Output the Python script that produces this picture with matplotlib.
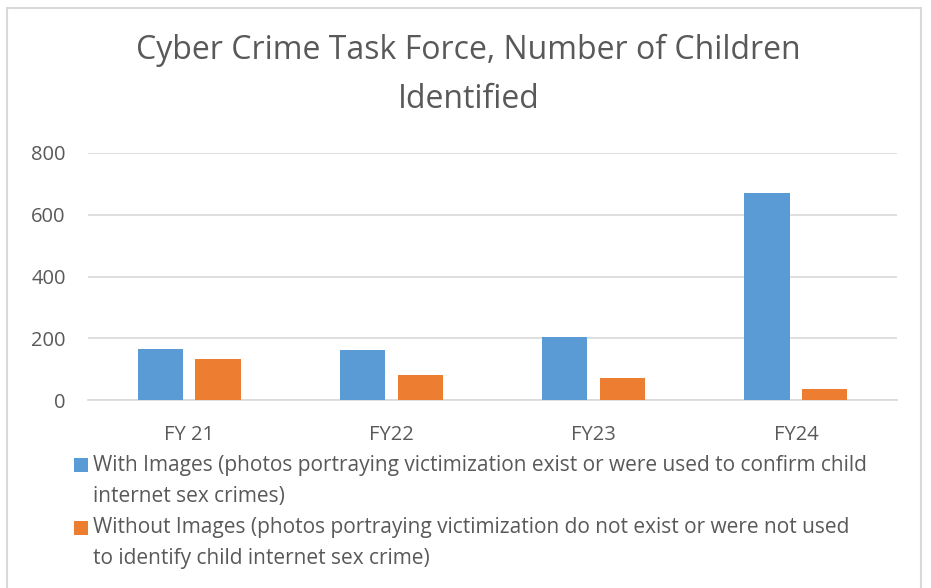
import matplotlib.pyplot as plt
import numpy as np
from matplotlib.patches import Rectangle
from matplotlib.legend_handler import HandlerBase

categories = ["FY 21", "FY22", "FY23", "FY24"]
with_images = [164, 162, 203, 671]
without_images = [132, 81, 71, 35]
labels = [
    "With Images (photos portraying victimization exist or were used to confirm child\ninternet sex crimes)",
    "Without Images (photos portraying victimization do not exist or were not used\nto identify child internet sex crime)",
]
title = "Cyber Crime Task Force, Number of Children\nIdentified"
colors = ["#5b9bd5", "#ed7d31"]

plt.rcParams['font.family'] = ['Open Sans', 'DejaVu Sans']
text_color = "#595959"


class TopSquare(HandlerBase):
    # small square aligned with the first line of a wrapped label
    def create_artists(self, legend, orig_handle, xdescent, ydescent,
                       width, height, fontsize, trans):
        size = 0.67 * fontsize
        bottom = -ydescent + height - 0.4 * fontsize
        p = Rectangle((-xdescent, bottom), size, size,
                      facecolor=orig_handle.get_facecolor(), edgecolor="none",
                      transform=trans)
        return [p]


fig = plt.figure(figsize=(9.31, 5.88), dpi=100)
ax = fig.add_axes([0.0945, 0.3197, 0.869, 0.4201])

x = np.arange(len(categories))
w = 0.223
ax.bar(x - 0.143, with_images, w, color=colors[0], zorder=3)
ax.bar(x + 0.143, without_images, w, color=colors[1], zorder=3)

ax.set_xlim(-0.5, len(categories) - 0.5)
ax.set_ylim(0, 800)
ax.set_yticks([0, 200, 400, 600, 800])
ax.set_xticks(x)
ax.set_xticklabels(categories)
ax.grid(axis="y", color="#d9d9d9", linewidth=1.2, zorder=0)
for s in ["top", "right", "left"]:
    ax.spines[s].set_visible(False)
ax.spines["bottom"].set_color("#d9d9d9")
ax.spines["bottom"].set_linewidth(1.2)
ax.tick_params(length=0, labelsize=14.5, colors=text_color)
ax.tick_params(axis="x", pad=18)
ax.tick_params(axis="y", pad=16)

fig.text(0.503, 0.872, title, ha="center", va="center", fontsize=23,
         color=text_color, linespacing=1.64)

proxies = [Rectangle((0, 0), 1, 1, facecolor=c) for c in colors]
leg = fig.legend(handles=proxies, labels=labels, loc="upper left",
                 bbox_to_anchor=(0.0795, 0.226), frameon=False, fontsize=15,
                 labelcolor=text_color, handlelength=0.67, handleheight=2.4,
                 handletextpad=0.24, labelspacing=0.5, borderaxespad=0,
                 borderpad=0, handler_map={Rectangle: TopSquare()})
for t in leg.get_texts():
    t.set_linespacing(1.62)

# chart border
fig.patches.append(Rectangle((0.008, -0.05), 0.981, 1.036, transform=fig.transFigure,
                             fill=False, edgecolor="#d9d9d9", linewidth=1.5))

fig.savefig("out.png", dpi=100)
